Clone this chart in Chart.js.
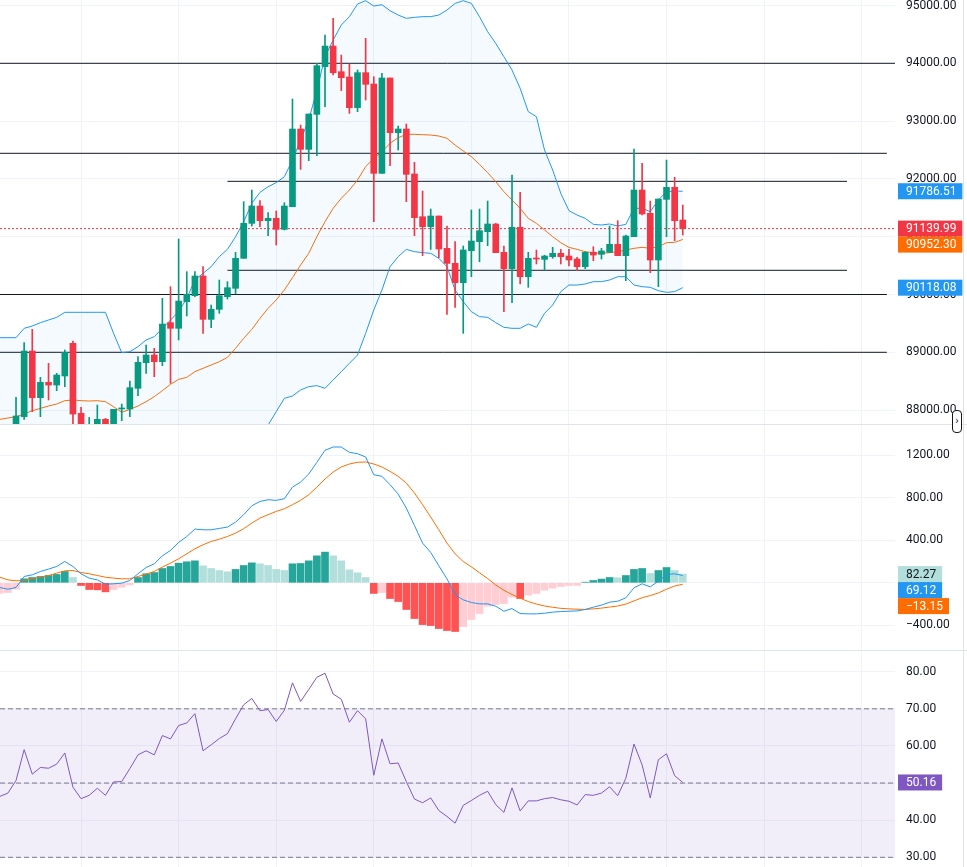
<!DOCTYPE html>
<html>
<head>
<meta charset="utf-8">
<script src="https://cdn.jsdelivr.net/npm/chart.js@4.4.1/dist/chart.umd.min.js"></script>
<style>
  html, body { margin: 0; padding: 0; background: #fff; }
  #wrap { position: relative; width: 967px; height: 867px; overflow: hidden; background: #fff; }
  canvas { position: absolute; left: 0; }
  .sep { position: absolute; left: 0; width: 967px; height: 1px; background: #E0E3EB; }
  .edge { position: absolute; left: 963px; top: 0; width: 1px; height: 867px; background: #E0E3EB; }
  .btn { position: absolute; left: 952px; top: 410px; width: 8px; height: 21px; border: 1px solid #131722; border-radius: 4px;
         font: 11px Roboto, sans-serif; line-height: 20px; text-align: center; color: #131722; background: #fff; }
</style>
</head>
<body>
<div id="wrap">
  <canvas id="price" width="967" height="424" style="top:0"></canvas>
  <div class="sep" style="top:424px"></div>
  <canvas id="macd" width="967" height="225" style="top:425px"></canvas>
  <div class="sep" style="top:650px"></div>
  <canvas id="rsi" width="967" height="216" style="top:651px"></canvas>
  <div class="edge"></div>
  <div class="btn">›</div>
</div>
<script>
// candles, index 0..82 (x = candle index)
const opens = [87650,87886,89022,88215,88480,88434,88590,89155,87944,87400,87550,87840,87600,88020,88019,88377,88820,88953,88838,89513,
  89415,89876,89980,90320,89570,89743,89962,90107,90626,91231,91531,91277,91318,91127,91519,92863,92511,93117,93942,94299,
  93855,93763,93232,93838,93642,92096,93746,92800,92863,92085,91346,91173,91358,90799,90539,90205,90758,90914,91087,91220,
  90729,90447,91162,90308,90626,90608,90655,90712,90666,90614,90481,90729,90695,90729,90868,90672,91001,91808,91404,90597,
  91646,91854,91289];
const highs = [88221,89167,89397,88567,88809,88636,89040,89195,88048,87873,88088,87857,88013,88105,88503,88924,89126,89069,89934,90135,
  90960,90395,90395,90481,89818,90251,90222,90729,91606,91808,91623,91416,91445,91589,93382,92932,93123,94000,94490,94778,
  94143,93988,93884,94432,93769,93826,93746,92915,92950,92287,91790,91479,91358,91185,90914,90839,91462,91479,91617,91230,
  90839,92067,91768,90729,90770,90680,90816,90781,90781,90643,90740,90827,90799,91185,91277,91029,92517,92269,91617,91652,
  92327,92027,91548];
const lows = [87450,87840,87973,87886,88175,88336,88405,87500,87300,87300,87350,87450,87500,87817,87886,88250,88636,88578,88769,88463,
  89213,89628,89962,89328,89426,89674,89922,90009,90626,91185,91173,91018,90856,91116,91519,92165,92315,92402,93250,93797,
  93526,93134,93163,93365,91260,92096,92229,92500,91606,91018,90672,90781,90637,89657,89778,89328,90308,90568,90845,90724,
  89703,89859,90182,90124,90528,90424,90626,90528,90493,90412,90447,90585,90614,90729,90672,90239,91001,91376,90378,90135,
  91001,90931,91029];
const closes = [87898,89022,88215,88480,88434,88607,88999,87932,87550,87650,87840,87600,88013,88035,88388,88826,88953,88838,89489,89415,
  89887,90003,90320,89570,89743,89980,90118,90626,91231,91531,91277,91318,91127,91531,92863,92511,93123,93959,94299,93838,
  93751,93232,93838,93636,92096,93746,92800,92863,92079,91329,91173,91358,90787,90539,90205,90770,90925,91104,91220,90724,
  90447,91162,90308,90626,90614,90666,90712,90655,90597,90481,90729,90683,90753,90868,90672,91012,91808,91393,90597,91652,
  91854,91277,91139.99];

// indicators start two bars before the first visible candle
const IND_START = -2;
const bbUpper = [89253,89253,89253,89415,89455,89513,89559,89605,89692,89692,89692,89692,89692,89692,89328,88994,89011,89097,89213,89270,
  89415,89559,89703,89934,90251,90366,90481,90654,90781,91000,91260,91577,91767,91865,91935,92038,92327,92673,93019,93538,
  94115,94403,94662,94807,95026,95083,94991,95014,94910,94835,94778,94795,94807,94807,94835,94922,95037,95083,95037,94807,
  94547,94345,94115,93884,93567,93163,93077,92500,92154,91750,91450,91375,91318,91214,91202,91220,91185,91214,91491,91491,
  91433,91635,91779,91790,91786.51];
const bbMiddle = [87840,87863,87886,87932,87990,88030,88071,88105,88163,88175,88163,88157,88163,88146,88059,87961,88013,88071,88146,88232,
  88336,88446,88532,88567,88665,88723,88780,88838,88913,89069,89242,89397,89588,89761,89905,90078,90291,90510,90712,91001,
  91260,91491,91664,91808,91981,92212,92356,92471,92615,92713,92771,92771,92765,92759,92742,92702,92586,92483,92385,92252,
  92108,91952,91779,91635,91491,91318,91231,91116,91001,90897,90816,90781,90741,90724,90712,90724,90741,90770,90799,90816,
  90799,90827,90897,90902,90952.30];
const bbLower = [86430,86470,86520,86450,86520,86550,86580,86600,86630,86660,86630,86620,86630,86600,86790,86930,87010,87040,87080,87190,
  87260,87330,87360,87200,87080,87080,87080,87020,87040,87140,87220,87220,87410,87740,87973,88203,88244,88348,88405,88423,
  88377,88521,88665,88809,88953,89328,89732,90078,90481,90654,90781,90741,90724,90712,90626,90481,90078,89876,89703,89616,
  89605,89513,89432,89415,89415,89490,89432,89674,89818,90049,90164,90164,90182,90222,90222,90251,90308,90308,90164,90135,
  90124,90066,90037,90049,90118.08];

const macdLine = [-44,-60,-44,60,75,107,129,154,201,154,85,44,28,-13,-9,-3,22,85,144,179,
  254,305,380,436,506,499,499,512,524,571,641,725,766,782,776,791,901,948,1024,1134,
  1247,1278,1278,1228,1215,1184,1017,1002,923,835,703,540,374,286,160,38,-113,-160,-185,-198,
  -198,-220,-267,-242,-289,-292,-292,-286,-276,-270,-267,-264,-251,-229,-210,-182,-173,-141,-47,-9,
  -38,16,79,85,69.12];
const signalLine = [53,28,19,22,38,53,69,91,113,116,97,85,69,53,44,38,38,60,82,107,
  148,185,226,273,320,358,389,411,436,468,509,562,609,641,672,697,735,776,829,901,
  976,1042,1090,1118,1134,1137,1118,1090,1049,1002,939,845,735,619,499,374,273,201,150,95,
  40,-20,-70,-110,-145,-176,-200,-218,-230,-240,-245,-248,-250,-245,-238,-228,-218,-200,-170,-140,
  -120,-95,-60,-30,-13.15];
const macdHist = [-98,-91,-60,38,50,60,69,79,107,50,-25,-63,-66,-85,-63,-41,-19,50,85,97,
  135,154,185,198,207,160,135,116,104,126,163,188,179,163,126,116,179,182,207,254,
  289,254,207,122,94,50,-100,-91,-148,-176,-251,-336,-393,-402,-430,-449,-458,-411,-345,-289,
  -220,-204,-195,-135,-148,-116,-100,-69,-50,-35,-25,-24,6,22,35,50,48,69,126,135,
  88,116,144,116,82.27];
const rsiLine = [46.4,47.3,50.7,59.0,52.4,54.2,54.0,55.1,58.1,48.9,45.8,46.7,48.6,46.7,50.3,50.4,53.9,57.6,58.7,57.6,
  62.8,61.9,65.5,66.2,68.7,58.7,60.3,62.0,63.3,67.3,71.1,72.8,69.5,69.8,66.6,69.6,77.0,72.0,75.2,78.5,
  79.6,74.0,72.6,66.4,69.5,67.3,52.1,61.9,55.2,55.4,50.4,45.7,44.7,46.0,42.6,41.0,39.2,44.0,45.3,46.7,
  47.8,44.2,42.1,48.7,42.5,45.2,45.2,45.8,46.1,45.5,45.1,44.1,46.9,46.7,47.3,49.0,46.6,51.3,60.5,54.9,
  46.0,56.3,57.9,52.0,50.16];

// drawn horizontal levels (price, from bar, to bar)
const levelPrices = [94000, 92443, 91958, 90419, 90000, 89000];
const levelFrom = [-2, -2, 26, 26, -2, -2];
const levelTo = [108.2, 107.1, 102.2, 102.2, 107.1, 107.1];
const rsiLevels = [70, 50, 30];

// axis ticks
const priceTicks = [88000, 89000, 90000, 91000, 92000, 93000, 94000, 95000];
const macdTicks = [-400, 0, 400, 800, 1200];
const rsiTicks = [30, 40, 50, 60, 70, 80];
const timeGrid = [8, 20, 32, 44, 56, 68, 80, 92, 104];

const XMIN = -1.97, XMAX = 108.1;
const UP = '#089981', DOWN = '#F23645';
const FONT = 'Roboto, sans-serif';
const fmt = v => (v < 0 ? '\u2212' : '') + Math.abs(v).toFixed(2);

const ind = arr => arr.map((v, k) => ({ x: k + IND_START, y: v }));
const hline = (y, a, b) => [{ x: a, y }, { x: b, y }];

function xScale() {
  return {
    type: 'linear', min: XMIN, max: XMAX, offset: false,
    grid: { color: '#F0F3FA', drawTicks: false, offset: false },
    border: { display: false },
    ticks: { display: false },
    afterBuildTicks: s => { s.ticks = timeGrid.map(v => ({ value: v })); },
    afterFit: s => { s.height = 0; s.paddingLeft = 0; s.paddingRight = 0; },
  };
}
function yScale(min, max, ticks) {
  return {
    position: 'right', min, max,
    grid: { color: '#F0F3FA', drawTicks: false },
    border: { display: false },
    ticks: { color: '#131722', font: { family: FONT, size: 12 }, padding: 11, callback: v => fmt(v), autoSkip: false },
    afterBuildTicks: s => { s.ticks = ticks.map(v => ({ value: v })); },
    afterFit: s => { s.width = 72; s.paddingTop = 0; s.paddingBottom = 0; },
  };
}

// value tags on the price scale, stacked so they do not overlap
function tagPlugin(tags) {
  return {
    id: 'tags',
    afterDraw(chart) {
      const ctx = chart.ctx, y = chart.scales.y, h = 16;
      ctx.save();
      ctx.font = '12px ' + FONT;
      ctx.textBaseline = 'middle';
      let prevBottom = -Infinity;
      tags.map(t => ({ ...t, py: y.getPixelForValue(t.value) }))
        .sort((a, b) => a.py - b.py)
        .forEach(t => {
          const top = Math.max(t.py - h / 2, prevBottom);
          prevBottom = top + h;
          const text = fmt(t.value);
          const w = ctx.measureText(text).width + 14;
          ctx.fillStyle = t.bg;
          ctx.fillRect(898, top, w, h);
          ctx.fillStyle = t.fg || '#fff';
          ctx.fillText(text, 906, top + h / 2 + 0.5);
        });
      ctx.restore();
    },
  };
}

const base = {
  responsive: false,
  animation: false,
  layout: { padding: 0 },
  plugins: { legend: { display: false }, tooltip: { enabled: false } },
};

// ---- price pane
const candleColors = closes.map((c, i) => (c >= opens[i] ? UP : DOWN));
const last = closes.length - 1;
const lineDs = (data, color, extra) => ({
  type: 'line', data, borderColor: color, borderWidth: 1, pointRadius: 0, tension: 0, fill: false, ...extra,
});

new Chart(document.getElementById('price'), {
  type: 'bar',
  data: {
    datasets: [
      { data: closes.map((c, i) => ({ x: i, y: [opens[i], c] })), backgroundColor: candleColors,
        barThickness: 6, grouped: false, borderWidth: 0, minBarLength: 1, order: 0 },
      { data: closes.map((c, i) => ({ x: i, y: [lows[i], highs[i]] })), backgroundColor: candleColors,
        barThickness: 1, grouped: false, borderWidth: 0, order: 1 },
      lineDs(hline(closes[last], XMIN, XMAX), DOWN, { borderDash: [2, 2], order: 2 }),
      lineDs(ind(bbUpper), '#2196F3', { fill: { target: 5 }, backgroundColor: 'rgba(33,150,243,0.05)', order: 3 }),
      lineDs(ind(bbMiddle), '#FF6D00', { order: 3 }),
      lineDs(ind(bbLower), '#2196F3', { order: 3 }),
      ...levelPrices.map((p, k) => lineDs(hline(p, levelFrom[k], levelTo[k]), '#131722', { order: 4 })),
    ],
  },
  options: { ...base, scales: { x: xScale(), y: yScale(87759.6, 95095.2, priceTicks) } },
  plugins: [tagPlugin([
    { value: bbUpper[bbUpper.length - 1], bg: '#2196F3' },
    { value: closes[last], bg: '#F23645' },
    { value: bbMiddle[bbMiddle.length - 1], bg: '#FF6D00' },
    { value: bbLower[bbLower.length - 1], bg: '#2196F3' },
  ])],
});

// ---- MACD pane
const histColors = macdHist.map((v, k) => {
  const prev = k > 0 ? macdHist[k - 1] : v;
  if (v >= 0) return v >= prev ? '#26A69A' : '#B2DFDB';
  return v < prev ? '#FF5252' : '#FFCDD2';
});

new Chart(document.getElementById('macd'), {
  type: 'bar',
  data: {
    datasets: [
      lineDs(ind(macdLine), '#2196F3', { order: 0 }),
      lineDs(ind(signalLine), '#FF6D00', { order: 1 }),
      { data: ind(macdHist), backgroundColor: histColors, barThickness: 7, grouped: false, borderWidth: 0, order: 2 },
    ],
  },
  options: { ...base, scales: { x: xScale(), y: yScale(-632, 1485, macdTicks) } },
  plugins: [tagPlugin([
    { value: macdHist[macdHist.length - 1], bg: '#B2DFDB', fg: '#131722' },
    { value: macdLine[macdLine.length - 1], bg: '#2196F3' },
    { value: signalLine[signalLine.length - 1], bg: '#FF6D00' },
  ])],
});

// ---- RSI pane
new Chart(document.getElementById('rsi'), {
  type: 'line',
  data: {
    datasets: [
      lineDs(ind(rsiLine), '#7E57C2', { order: 0 }),
      ...rsiLevels.map((v, k) => lineDs(hline(v, XMIN, XMAX), '#787B86', {
        borderDash: [5, 3], order: 1,
        fill: k === 0 ? { target: 3 } : false,
        backgroundColor: 'rgba(126,87,194,0.1)',
      })),
    ],
  },
  options: { ...base, scales: { x: xScale(), y: yScale(27.39, 85.58, rsiTicks) } },
  plugins: [tagPlugin([{ value: rsiLine[rsiLine.length - 1], bg: '#7E57C2' }])],
});
</script>
</body>
</html>
